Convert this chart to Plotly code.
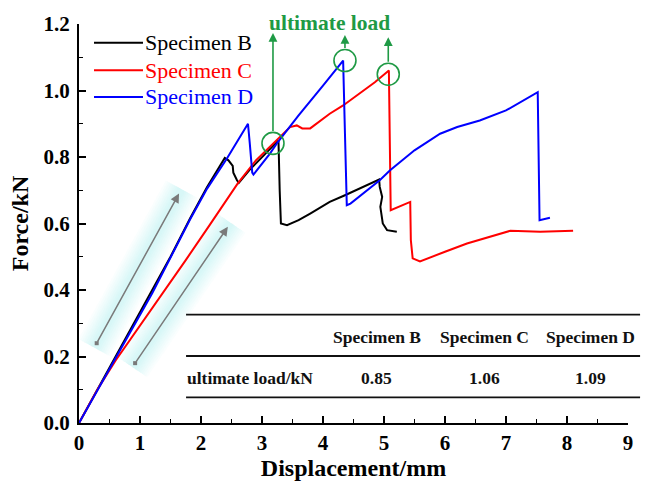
import plotly.graph_objects as go

# Force-displacement curves (displacement in mm, force in kN)
disp_B = [0, 0.2, 0.6, 1.13, 1.5, 1.82, 2.1, 2.39, 2.45, 2.52, 2.53, 2.59, 2.62, 2.8, 3.0, 3.15, 3.27,
          3.29, 3.31, 3.41, 3.6, 3.79, 4.11, 4.36, 4.6, 4.89, 4.92, 4.93, 4.97, 4.94, 4.98, 5.05, 5.21]
force_B = [0, 0.067, 0.2, 0.38, 0.5, 0.615, 0.71, 0.797, 0.79, 0.773, 0.753, 0.73, 0.722, 0.762, 0.80,
           0.828, 0.85, 0.70, 0.60, 0.595, 0.61, 0.63, 0.665, 0.685, 0.705, 0.728, 0.732, 0.71, 0.68,
           0.65, 0.60, 0.58, 0.575]

disp_C = [0, 0.3, 0.6, 1.0, 1.36, 1.75, 2.13, 2.6, 2.9, 3.26, 3.46, 3.57, 3.66, 3.79, 4.11, 4.33,
          4.6, 4.85, 5.08, 5.10, 5.11, 5.43, 5.44, 5.47, 5.59, 6.0, 6.36, 7.07, 7.56, 8.1]
force_C = [0, 0.1, 0.188, 0.292, 0.386, 0.49, 0.592, 0.72, 0.79, 0.856, 0.89, 0.895, 0.886, 0.886,
           0.93, 0.955, 0.99, 1.025, 1.06, 0.80, 0.64, 0.665, 0.55, 0.495, 0.486, 0.515, 0.54, 0.578,
           0.575, 0.578]

disp_D = [0, 0.5, 1.2, 1.82, 2.1, 2.43, 2.6, 2.77, 2.8, 2.84, 2.86, 3.13, 3.26, 3.6, 4.0, 4.33,
          4.36, 4.39, 4.45, 4.93, 5.1, 5.5, 5.92, 6.2, 6.57, 7.0, 7.52, 7.53, 7.55, 7.72]
force_D = [0, 0.163, 0.39, 0.612, 0.705, 0.797, 0.85, 0.90, 0.84, 0.753, 0.747, 0.81, 0.845,
           0.925, 1.015, 1.09, 0.87, 0.655, 0.66, 0.73, 0.76, 0.82, 0.87, 0.89, 0.91, 0.94, 0.995,
           0.80, 0.61, 0.617]

series_names = ["Specimen B", "Specimen C", "Specimen D"]
series_colors = ["#000000", "#ff0000", "#0000ff"]

# Ultimate loads (kN) and where they occur on each curve
ultimate_loads = [0.85, 1.06, 1.09]
ultimate_disp = [3.18, 5.07, 4.36]
ultimate_mark_y = [0.841, 1.049, 1.09]
arrow_tip_y = [1.173, 1.16, 1.167]

# Elastic-stage guide arrows: (tail x, tail y, head x, head y)
guide_arrows = [(0.29, 0.24, 1.64, 0.69), (0.92, 0.18, 2.44, 0.59)]

x_ticks = list(range(0, 10))
y_ticks = [0.0, 0.2, 0.4, 0.6, 0.8, 1.0, 1.2]

GREEN = "#1f9a45"
SERIF = "Liberation Serif, Times New Roman, serif"

fig = go.Figure()

# soft halo behind the guide arrows
for (x0, y0, x1, y1) in guide_arrows:
    dx, dy = (x1 - x0) * 0.03, (y1 - y0) * 0.03
    for w in range(36, 4, -4):
        fig.add_trace(go.Scatter(x=[x0 - dx, x1 + dx], y=[y0 - dy, y1 + dy], mode="lines",
                                 line=dict(color="rgba(110,215,232,0.03)", width=w),
                                 hoverinfo="skip", showlegend=False))

for xs, ys, name, col in zip([disp_B, disp_C, disp_D], [force_B, force_C, force_D],
                             series_names, series_colors):
    fig.add_trace(go.Scatter(x=xs, y=ys, mode="lines", name=name,
                             line=dict(color=col, width=2), showlegend=False))

# ultimate-load markers
fig.add_trace(go.Scatter(x=ultimate_disp, y=ultimate_mark_y, mode="markers",
                         marker=dict(symbol="circle-open", size=22,
                                     line=dict(color=GREEN, width=1.6), color=GREEN),
                         showlegend=False, hoverinfo="skip"))

annotations = []
shapes = []

for xd, ym, yt in zip(ultimate_disp, ultimate_mark_y, arrow_tip_y):
    annotations.append(dict(x=xd, y=yt, ax=xd, ay=ym + 0.033, xref="x", yref="y",
                            axref="x", ayref="y", text="", showarrow=True, arrowhead=2,
                            arrowsize=1.1, arrowwidth=1.6, arrowcolor=GREEN))
annotations.append(dict(x=4.1, y=1.203 / 1.2, xref="x", yref="paper", text="<b>ultimate load</b>",
                        showarrow=False, yanchor="middle",
                        font=dict(family=SERIF, size=21.5, color=GREEN)))

for (x0, y0, x1, y1) in guide_arrows:
    annotations.append(dict(x=x1, y=y1, ax=x0, ay=y0, xref="x", yref="y", axref="x", ayref="y",
                            text="", showarrow=True, arrowhead=2, arrowsize=1.2,
                            arrowwidth=1.5, arrowcolor="#7a7a7a"))
    fig.add_trace(go.Scatter(x=[x0], y=[y0], mode="markers",
                             marker=dict(symbol="square", size=4, color="#7a7a7a"),
                             showlegend=False, hoverinfo="skip"))

# legend block
legend_y = [1.1437, 1.0607, 0.9807]
for name, col, ly in zip(series_names, series_colors, legend_y):
    shapes.append(dict(type="line", xref="x", yref="y", x0=0.246, x1=1.049, y0=ly, y1=ly,
                       line=dict(color=col, width=2)))
    annotations.append(dict(x=1.05, y=ly, xref="x", yref="y", xanchor="left", yanchor="middle",
                            text=name, showarrow=False,
                            font=dict(family=SERIF, size=22, color=col)))

# table of ultimate loads
for ty in [0.326, 0.2015, 0.077]:
    shapes.append(dict(type="line", xref="paper", yref="y", x0=0.195, x1=1.022, y0=ty, y1=ty,
                       line=dict(color="#111111", width=1.8)))
col_x = [4.885, 6.64, 8.39]
for cx, name, val in zip(col_x, series_names, ultimate_loads):
    annotations.append(dict(x=cx, y=0.258, xref="x", yref="y", text=f"<b>{name}</b>",
                            showarrow=False, font=dict(family=SERIF, size=17.5, color="#111111")))
    annotations.append(dict(x=cx, y=0.136, xref="x", yref="y", text=f"<b>{val:.2f}</b>",
                            showarrow=False, font=dict(family=SERIF, size=17.5, color="#111111")))
annotations.append(dict(x=1.73, y=0.136, xref="x", yref="y", xanchor="left",
                        text="<b>ultimate load/kN</b>", showarrow=False,
                        font=dict(family=SERIF, size=17.5, color="#111111")))

axis_common = dict(showline=True, linecolor="black", linewidth=2, ticks="inside",
                   ticklen=7, tickwidth=1.6, tickcolor="black", showgrid=False,
                   zeroline=False, mirror=False,
                   tickfont=dict(family=SERIF, size=21, color="black", weight="bold"))

fig.update_layout(
    width=648, height=484,
    margin=dict(l=79, r=20, t=24, b=55),
    paper_bgcolor="white", plot_bgcolor="white",
    xaxis=dict(range=[0, 9], tickvals=x_ticks, ticktext=[str(v) for v in x_ticks],
               minor=dict(ticks="inside", ticklen=4, tickwidth=1.4, tickcolor="black", dtick=0.5),
               title=dict(text="Displacement/mm", standoff=0,
                          font=dict(family=SERIF, size=24, color="black", weight="bold")),
               **axis_common),
    yaxis=dict(range=[0, 1.2], tickvals=y_ticks, ticktext=[f"{v:.1f}" for v in y_ticks],
               ticklabelstandoff=3,
               minor=dict(ticks="inside", ticklen=4, tickwidth=1.4, tickcolor="black", dtick=0.1),
               title=dict(text="Force/kN", standoff=8,
                          font=dict(family=SERIF, size=24, color="black", weight="bold")),
               **axis_common),
    annotations=annotations,
    shapes=shapes,
    showlegend=False,
)

fig.write_html("out.html")
